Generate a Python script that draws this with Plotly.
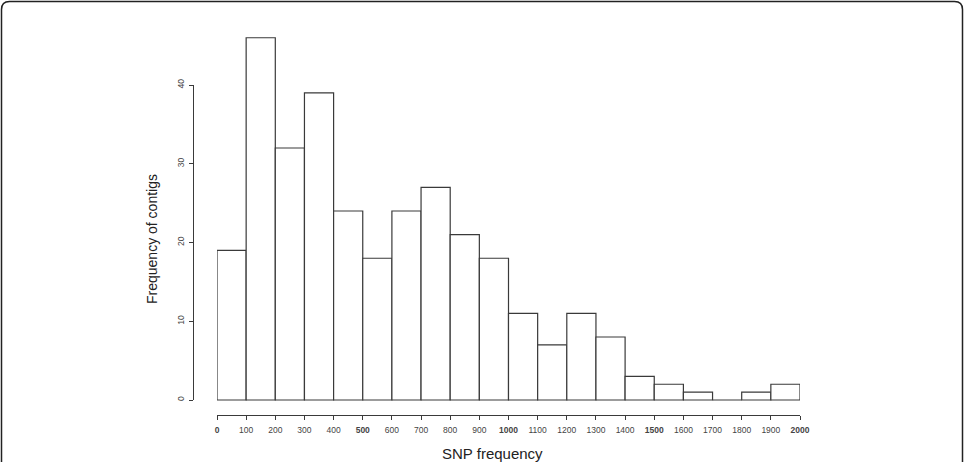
import plotly.graph_objects as go

# Data
bin_starts = list(range(0, 2000, 100))
counts = [19, 46, 32, 39, 24, 18, 24, 27, 21, 18, 11, 7, 11, 8, 3, 2, 1, 0, 1, 2]
bin_width = 100
x_ticks = list(range(0, 2001, 100))
x_ticklabels = [("<b>%d</b>" % v) if v % 500 == 0 else str(v) for v in x_ticks]
y_ticks = [0, 10, 20, 30, 40]

W, H = 965, 462
def px(x): return x / W
def py(y): return 1 - y / H

# pixel geometry
x0_px, x1_px = 217, 800       # x=0 .. x=2000
y0_px, y40_px = 400, 85       # y=0 .. y=40
ppu_y = (y0_px - y40_px) / 40.0
top_px, bot_px = 25, 405

centers = [s + bin_width / 2 for s in bin_starts]
line_col = "#3a3a3a"

fig = go.Figure()
fig.add_trace(go.Bar(
    x=centers, y=counts, width=[bin_width] * len(counts),
    marker=dict(color="white", line=dict(color=line_col, width=1.2)),
    xaxis="x", yaxis="y", showlegend=False, hoverinfo="x+y"))
# dummy trace for R-style detached axes
fig.add_trace(go.Scatter(x=[0, 2000], y=[0, 40], mode="markers",
                         marker=dict(opacity=0), xaxis="x2", yaxis="y2",
                         showlegend=False, hoverinfo="skip"))

tickfont = dict(family="Liberation Sans, Arial, sans-serif", size=8.5, color="#444")
fig.update_layout(
    width=W, height=H, margin=dict(l=0, r=0, t=0, b=0, autoexpand=False),
    paper_bgcolor="white", plot_bgcolor="rgba(0,0,0,0)",
    xaxis=dict(domain=[px(x0_px), px(x1_px)], range=[0, 2000], visible=False, automargin=False),
    yaxis=dict(domain=[py(bot_px), py(top_px)],
               range=[-(bot_px - y0_px) / ppu_y, (y0_px - top_px) / ppu_y],
               visible=False, automargin=False),
    xaxis2=dict(domain=[px(x0_px), px(x1_px)], range=[0, 2000],
                anchor="free", position=py(415), automargin=False,
                showline=True, linecolor=line_col, linewidth=1.2,
                ticks="outside", ticklen=4, tickcolor=line_col, tickwidth=1.2,
                tickvals=x_ticks, ticktext=x_ticklabels, tickfont=tickfont,
                ticklabelstandoff=3,
                showgrid=False, zeroline=False, fixedrange=True),
    yaxis2=dict(domain=[py(y0_px), py(y40_px)], range=[0, 40],
                anchor="free", position=px(193), automargin=False,
                showline=True, linecolor=line_col, linewidth=1.2,
                ticks="outside", ticklen=4, tickcolor=line_col, tickwidth=1.2,
                tickvals=y_ticks, tickfont=tickfont, tickangle=-90,
                ticklabelstandoff=2,
                showgrid=False, zeroline=False, fixedrange=True),
    font=dict(family="Liberation Sans, Arial, sans-serif"),
)

fig.add_annotation(text="SNP frequency", x=px(492.5), y=py(453), xref="paper", yref="paper",
                   xanchor="center", yanchor="middle",
                   showarrow=False, font=dict(size=15, color="#222"))
fig.add_annotation(text="Frequency of contigs", x=px(152), y=py(239), xref="paper", yref="paper",
                   xanchor="center", yanchor="middle",
                   showarrow=False, textangle=-90, font=dict(size=14, color="#222"))

# rounded frame
r = 8
L, R, T, B = 1.5, 962.5, 1.5, 480
path = (f"M {px(L)},{py(B)} L {px(L)},{py(T + r)} Q {px(L)},{py(T)} {px(L + r)},{py(T)} "
        f"L {px(R - r)},{py(T)} Q {px(R)},{py(T)} {px(R)},{py(T + r)} L {px(R)},{py(B)}")
fig.add_shape(type="path", path=path, xref="paper", yref="paper",
              line=dict(color="#222", width=1.5))

fig.write_html("out.html")
